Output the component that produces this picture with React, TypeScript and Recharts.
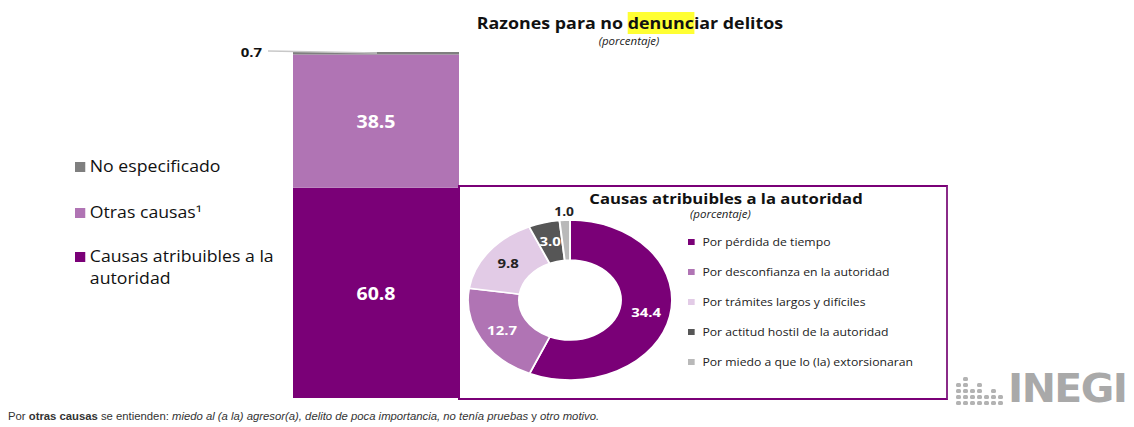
import React from "react";
import { Bar, BarChart, Cell, LabelList, Pie, PieChart, XAxis, YAxis } from "recharts";

// main stacked bar (percent)
const barCategories = ["Total"];
const causasAutoridad = [60.8];
const otrasCausas = [38.5];
const noEspecificado = [0.7];

const barLegend = ["No especificado", "Otras causas¹", "Causas atribuibles a la autoridad"];
const barColors = ["#7f7f7f", "#b074b4", "#7a0077"];

// donut: causes attributable to the authority
const pieLabels = [
  "Por pérdida de tiempo",
  "Por desconfianza en la autoridad",
  "Por trámites largos y difíciles",
  "Por actitud hostil de la autoridad",
  "Por miedo a que lo (la) extorsionaran",
];
const pieValues = [34.4, 12.7, 9.8, 3.0, 1.0];
const pieColors = ["#7a0077", "#b074b4", "#e2cbe6", "#565656", "#b9b9b9"];

const barData = barCategories.map((name, i) => ({
  name,
  causas: causasAutoridad[i],
  otras: otrasCausas[i],
  ne: noEspecificado[i],
}));

const pieData = pieLabels.map((name, i) => ({ name, value: pieValues[i] }));

const SX = 1.275; // donut is stretched horizontally in the source
const TX = 1.15; // text is stretched too
const FONT = "'Open Sans', 'DejaVu Sans', sans-serif";
const RAD = Math.PI / 180;

const wide = (origin: string, s = TX): React.CSSProperties => ({
  transform: `scaleX(${s})`,
  transformOrigin: origin,
});

const renderNe = (props: any) => {
  const { x, y, value } = props;
  return (
    <g>
      <line x1={x - 25} y1={y - 1} x2={x + 84} y2={y + 1} stroke="#c8c8c8" strokeWidth={1.5} />
      <text
        transform={`translate(${x - 31},${y}) scale(${TX},1)`}
        textAnchor="end"
        dominantBaseline="central"
        fontFamily={FONT}
        fontWeight={700}
        fontSize={13}
        fill="#111"
      >
        {Number(value).toFixed(1)}
      </text>
    </g>
  );
};

const renderInside = (props: any) => {
  const { x, y, width, height, value } = props;
  return (
    <text
      transform={`translate(${x + width / 2},${y + height / 2}) scale(${TX},1)`}
      textAnchor="middle"
      dominantBaseline="central"
      fontFamily={FONT}
      fontWeight={700}
      fontSize={17}
      fill="#fff"
    >
      {Number(value).toFixed(1)}
    </text>
  );
};

const renderPieLabel = (props: any) => {
  const { cx, cy, midAngle, outerRadius, index, value } = props;
  const outside = index === 4;
  const r = outside ? outerRadius + 9 : 61;
  const x = cx + r * Math.cos(-midAngle * RAD);
  const y = cy + r * Math.sin(-midAngle * RAD);
  const fill = index === 2 || outside ? "#222" : "#fff";
  return (
    <text
      transform={`translate(${x},${y}) scale(${TX / SX},1)`}
      textAnchor="middle"
      dominantBaseline="central"
      fontFamily={FONT}
      fontWeight={700}
      fontSize={outside ? 12 : 13}
      fill={fill}
    >
      {Number(value).toFixed(1)}
    </text>
  );
};

function InegiLogo() {
  const cols = [4, 5, 3, 4, 2, 3, 2];
  return (
    <div style={{ position: "absolute", left: 956, top: 372, display: "flex", alignItems: "flex-end" }}>
      <svg width={52} height={34}>
        {cols.map((n, c) =>
          Array.from({ length: n }).map((_, k) => (
            <rect key={`${c}-${k}`} x={c * 7} y={29 - k * 6} width={5} height={4} rx={1.5} fill="#b3b3b3" />
          ))
        )}
      </svg>
      <span style={{ fontFamily: "'DejaVu Sans', sans-serif", fontWeight: 700, fontSize: 39, color: "#a9a9a9", lineHeight: "34px", letterSpacing: -1.5, ...wide("left", 1.05) }}>
        INEGI
      </span>
    </div>
  );
}

export default function App() {
  return (
    <div style={{ position: "absolute", left: 0, top: 0, width: 1134, height: 427, background: "#fff", overflow: "hidden", fontFamily: FONT }}>
      {/* title */}
      <div style={{ position: "absolute", left: 0, width: 1260, top: 12, textAlign: "center", fontWeight: 700, fontSize: 15.5, color: "#111", ...wide("630px 0") }}>
        Razones para no <span style={{ background: "#ffff33" }}>denunc</span>iar delitos
      </div>
      <div style={{ position: "absolute", left: 0, width: 1258, top: 34, textAlign: "center", fontStyle: "italic", fontSize: 10, color: "#222", ...wide("629px 0") }}>
        (porcentaje)
      </div>

      {/* left legend */}
      {barLegend.map((label, i) => (
        <div key={label} style={{ position: "absolute", left: 75, top: [155, 201, 245][i], display: "flex", alignItems: "flex-start", width: 190, ...wide("0 0", 1.14) }}>
          <div style={{ width: 9, height: 10, background: barColors[i], marginTop: 7, marginRight: 4, flexShrink: 0 }} />
          <div style={{ fontSize: 15.5, lineHeight: "22px", color: "#111" }}>{label}</div>
        </div>
      ))}

      <BarChart
        width={1134}
        height={427}
        data={barData}
        margin={{ top: 52, right: 675, bottom: 29, left: 293 }}
        barCategoryGap={0}
        style={{ position: "absolute", left: 0, top: 0 }}
      >
        <XAxis dataKey="name" hide />
        <YAxis hide domain={[0, 100]} />
        <Bar dataKey="causas" stackId="a" fill={barColors[2]} isAnimationActive={false}>
          <LabelList dataKey="causas" content={renderInside} />
        </Bar>
        <Bar dataKey="otras" stackId="a" fill={barColors[1]} isAnimationActive={false}>
          <LabelList dataKey="otras" content={renderInside} />
        </Bar>
        <Bar dataKey="ne" stackId="a" fill={barColors[0]} isAnimationActive={false}>
          <LabelList dataKey="ne" content={renderNe} />
        </Bar>
      </BarChart>

      {/* inset box */}
      <div style={{ position: "absolute", left: 458, top: 185, width: 486, height: 211, border: "2px solid #7a0077", borderRight: "2px solid #8a2b88", background: "#fff" }} />
      <div style={{ position: "absolute", left: 526, width: 400, top: 189, textAlign: "center", fontWeight: 700, fontSize: 14, color: "#111", ...wide("200px 0", 1.19) }}>
        Causas atribuibles a la autoridad
      </div>
      <div style={{ position: "absolute", left: 690, top: 207, fontStyle: "italic", fontSize: 10, color: "#222", ...wide("0 0") }}>(porcentaje)</div>

      <div style={{ position: "absolute", left: 470, top: 200, width: 200, height: 200, transform: `scaleX(${SX})`, transformOrigin: "100px 100px" }}>
        <PieChart width={200} height={200} margin={{ top: 0, right: 0, bottom: 0, left: 0 }}>
          <Pie
            data={pieData}
            dataKey="value"
            cx={100}
            cy={100}
            outerRadius={80}
            innerRadius={40}
            startAngle={90}
            endAngle={-270}
            stroke="#fff"
            strokeWidth={1.5}
            label={renderPieLabel}
            labelLine={false}
            isAnimationActive={false}
          >
            {pieData.map((d, i) => (
              <Cell key={d.name} fill={pieColors[i]} />
            ))}
          </Pie>
        </PieChart>
      </div>

      {/* inset legend */}
      {pieLabels.map((label, i) => (
        <div key={label} style={{ position: "absolute", left: 688, top: 234 + i * 30, display: "flex", alignItems: "center", ...wide("0 0", 1.11) }}>
          <div style={{ width: 6, height: 6, background: pieColors[i], marginRight: 7 }} />
          <div style={{ fontSize: 11, lineHeight: "16px", color: "#222" }}>{label}</div>
        </div>
      ))}

      <InegiLogo />

      {/* footnote */}
      <div style={{ position: "absolute", left: 8, top: 411, fontFamily: "'Liberation Sans', Arial, sans-serif", fontSize: 10, color: "#333", whiteSpace: "nowrap", ...wide("0 0", 1.13) }}>
        Por <b>otras causas</b> se entienden: <i>miedo al (a la) agresor(a), delito de poca importancia, no tenía pruebas</i> y <i>otro motivo.</i>
      </div>
    </div>
  );
}
